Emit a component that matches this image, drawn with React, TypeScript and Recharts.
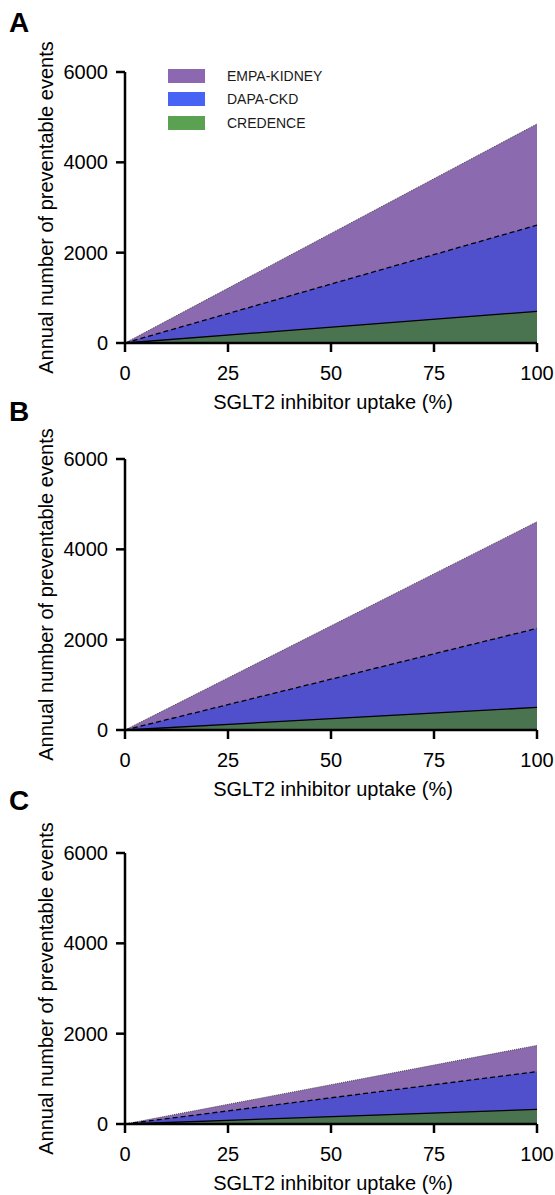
import React from "react";
import { AreaChart, Area, XAxis, YAxis, Legend } from "recharts";

// x values (SGLT2 inhibitor uptake, %)
const uptake = [0, 100];
const xTicks = [0, 25, 50, 75, 100];
const yTicks = [0, 2000, 4000, 6000];

// annual number of preventable events
const empaA = [0, 4850];
const dapaA = [0, 2610];
const credenceA = [0, 700];

const empaB = [0, 4610];
const dapaB = [0, 2250];
const credenceB = [0, 500];

const empaC = [0, 1740];
const dapaC = [0, 1160];
const credenceC = [0, 325];

const seriesNames = ["EMPA-KIDNEY", "DAPA-CKD", "CREDENCE"];
const panelLetters = ["A", "B", "C"];

const FONT = "'Liberation Sans', Arial, Helvetica, sans-serif";

const series = [
  { key: "empa", name: seriesNames[0], fill: "#8c6aaf", swatch: "#8b68b0", stroke: "#444", dash: "1 1", width: 1 },
  { key: "dapa", name: seriesNames[1], fill: "#5050cd", swatch: "#4763f6", stroke: "#000", dash: "5 3", width: 1.3 },
  { key: "credence", name: seriesNames[2], fill: "#4a7350", swatch: "#5aa152", stroke: "#000", dash: undefined, width: 1.3 },
];

const panels = [
  { letter: panelLetters[0], empa: empaA, dapa: dapaA, credence: credenceA, top: 0, legend: true },
  { letter: panelLetters[1], empa: empaB, dapa: dapaB, credence: credenceB, top: 387, legend: false },
  { letter: panelLetters[2], empa: empaC, dapa: dapaC, credence: credenceC, top: 781, legend: false },
];

const letterBaselines = [32, 421, 810];

const LegendBox = () => (
  <div style={{ fontFamily: FONT, fontSize: 14, color: "#1a1a1a" }}>
    {series.map((s) => (
      <div key={s.key} style={{ display: "flex", alignItems: "center", height: 23.5 }}>
        <span style={{ display: "inline-block", width: 37, height: 14, background: s.swatch, marginRight: 22 }} />
        {s.name}
      </div>
    ))}
  </div>
);

const axisStyle = { stroke: "#000", strokeWidth: 2.5 };

const Panel = ({ p }: { p: (typeof panels)[number] }) => {
  const data = uptake.map((u, i) => ({
    uptake: u,
    empa: p.empa[i],
    dapa: p.dapa[i],
    credence: p.credence[i],
  }));

  return (
    <div style={{ position: "absolute", left: 0, top: p.top }}>
      <AreaChart width={555} height={420} data={data} margin={{ top: 72, right: 18, bottom: 0, left: 0 }}>
        <XAxis
          type="number"
          dataKey="uptake"
          domain={[0, 100]}
          ticks={xTicks}
          height={77}
          tickSize={9}
          tickMargin={14}
          axisLine={axisStyle}
          tickLine={axisStyle}
          tick={{ fill: "#000", fontSize: 20, fontFamily: FONT }}
          label={(props: any) => {
            const vb = props.viewBox;
            return (
              <text
                x={vb.x + vb.width / 2 + 2}
                y={vb.y + 66}
                textAnchor="middle"
                fontSize={20}
                fontFamily={FONT}
                fill="#000"
              >
                SGLT2 inhibitor uptake (%)
              </text>
            );
          }}
        />
        <YAxis
          type="number"
          domain={[0, 6000]}
          ticks={yTicks}
          width={125}
          tickSize={9}
          tickMargin={8}
          axisLine={axisStyle}
          tickLine={axisStyle}
          tick={{ fill: "#000", fontSize: 20, fontFamily: FONT }}
          label={(props: any) => {
            const vb = props.viewBox;
            const cx = 46;
            const cy = vb.y + vb.height / 2;
            return (
              <text
                x={cx}
                y={cy}
                transform={`rotate(-90, ${cx}, ${cy})`}
                textAnchor="middle"
                dominantBaseline="central"
                fontSize={20}
                fontFamily={FONT}
                fill="#000"
              >
                Annual number of preventable events
              </text>
            );
          }}
        />
        {series.map((s) => (
          <Area
            key={s.key}
            type="linear"
            dataKey={s.key}
            name={s.name}
            fill={s.fill}
            fillOpacity={1}
            stroke={s.stroke}
            strokeWidth={s.width}
            strokeDasharray={s.dash}
            dot={false}
            activeDot={false}
            isAnimationActive={false}
          />
        ))}
        {p.legend && (
          <Legend
            layout="vertical"
            align="center"
            verticalAlign="middle"
            content={<LegendBox />}
            wrapperStyle={{ left: 168, top: 64, width: 200, height: 72 }}
          />
        )}
      </AreaChart>
    </div>
  );
};

export default function App() {
  return (
    <div
      style={{
        position: "absolute",
        left: 0,
        top: 0,
        width: 555,
        height: 1195,
        overflow: "hidden",
        background: "#fff",
      }}
    >
      {panels.map((p) => (
        <Panel key={p.letter} p={p} />
      ))}
      <svg width={555} height={1195} style={{ position: "absolute", left: 0, top: 0, pointerEvents: "none" }}>
        {panels.map((p, i) => (
          <text key={p.letter} x={9} y={letterBaselines[i]} fontSize={28} fontWeight="bold" fontFamily={FONT} fill="#000">
            {p.letter}
          </text>
        ))}
      </svg>
    </div>
  );
}
